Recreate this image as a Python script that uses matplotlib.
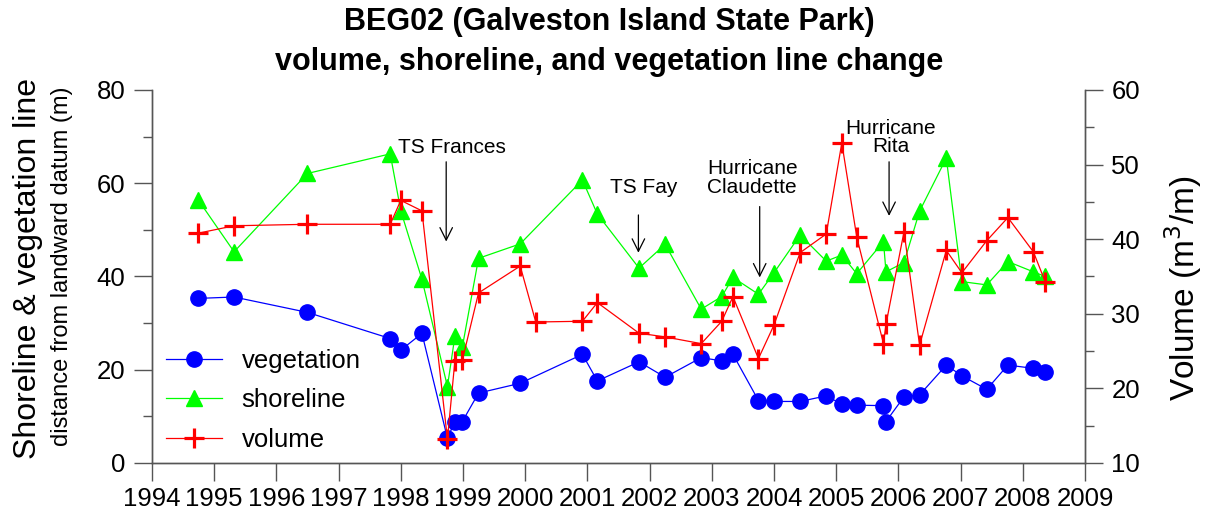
import matplotlib
matplotlib.use("Agg")
import matplotlib.pyplot as plt
from matplotlib.ticker import MultipleLocator

plt.rcParams['font.family'] = ['Liberation Sans', 'DejaVu Sans']

# survey dates (decimal years) for vegetation line and shoreline
survey_dates = [1994.74, 1995.32, 1996.50, 1997.83, 1998.00, 1998.34, 1998.75, 1998.87,
                1998.99, 1999.25, 1999.92, 2000.92, 2001.16, 2001.83, 2002.25, 2002.83,
                2003.16, 2003.34, 2003.75, 2004.00, 2004.42, 2004.84, 2005.09, 2005.33,
                2005.76, 2005.80, 2006.09, 2006.34, 2006.77, 2007.02, 2007.42, 2007.76,
                2008.17, 2008.36]
vegetation = [35.3, 35.6, 32.3, 26.7, 24.2, 27.8, 5.3, 8.9,
              8.9, 15.0, 17.1, 23.3, 17.6, 21.7, 18.4, 22.6,
              21.9, 23.3, 13.4, 13.2, 13.2, 14.4, 12.6, 12.4,
              12.3, 8.9, 14.2, 14.6, 21.0, 18.7, 15.8, 21.0,
              20.3, 19.6]
shoreline = [56.5, 45.3, 62.1, 66.3, 54.1, 39.4, 16.4, 27.2,
             24.9, 43.9, 47.0, 60.7, 53.4, 41.8, 46.9, 33.0,
             35.7, 39.8, 36.2, 40.8, 48.9, 43.3, 44.6, 40.6,
             47.5, 41.0, 43.0, 54.0, 65.4, 38.9, 38.2, 43.2,
             41.0, 40.0]

# volume has one extra survey in early 2000
volume_dates = [1994.74, 1995.32, 1996.50, 1997.83, 1998.00, 1998.34, 1998.75, 1998.87,
                1998.99, 1999.25, 1999.92, 2000.17, 2000.92, 2001.16, 2001.83, 2002.25,
                2002.83, 2003.16, 2003.34, 2003.75, 2004.00, 2004.42, 2004.84, 2005.09,
                2005.33, 2005.76, 2005.80, 2006.09, 2006.34, 2006.77, 2007.02, 2007.42,
                2007.76, 2008.17, 2008.36]
volume = [40.8, 41.8, 42.0, 42.0, 45.2, 43.8, 13.2, 23.7,
          23.8, 32.8, 36.4, 28.9, 29.0, 31.5, 27.4, 26.9,
          26.0, 29.0, 32.3, 24.0, 28.5, 38.2, 40.7, 52.9,
          40.3, 26.0, 28.6, 41.0, 25.8, 38.5, 35.5, 39.8,
          42.9, 38.3, 34.3]

# storm annotations: label, arrow x, arrow tail y, arrow head y, text x, text y (left axis units)
storms = [
    ("TS Frances", 1998.73, 64.6, 47.5, 1998.82, 67.6),
    ("TS Fay", 2001.82, 53.2, 45.1, 2001.91, 59.0),
    ("Hurricane\nClaudette", 2003.77, 55.0, 39.8, 2003.65, 61.1),
    ("Hurricane\nRita", 2005.85, 64.6, 53.0, 2005.88, 69.8),
]

years = list(range(1994, 2010))

fig = plt.figure(figsize=(12.08, 5.19), dpi=100)
ax = fig.add_axes([0.1258, 0.1079, 0.7724, 0.7187])
ax2 = ax.twinx()

l1, = ax.plot(survey_dates, vegetation, '-o', color='#0000ff', lw=0.9, ms=11,
              label='vegetation', clip_on=False)
l2, = ax.plot(survey_dates, shoreline, '-^', color='#00ff00', lw=0.9, ms=11,
              label='shoreline', clip_on=False)
l3, = ax2.plot(volume_dates, volume, '-+', color='#ff0000', lw=0.9, ms=15, mew=2.3,
               label='volume', clip_on=False)

for text, xa, ytail, yhead, xt, yt in storms:
    ax.annotate('', xy=(xa, yhead), xytext=(xa, ytail),
                arrowprops=dict(arrowstyle='->, head_length=0.9, head_width=0.45',
                                color='black', lw=0.9, shrinkA=0, shrinkB=0))
    ax.text(xt, yt, text, ha='center', va='center', fontsize=15, linespacing=0.95)

ax.set_xlim(1994, 2009)
ax.set_ylim(0, 80)
ax2.set_ylim(10, 60)
ax.set_xticks(years)
ax.set_xticklabels([str(y) for y in years])
ax.yaxis.set_major_locator(MultipleLocator(20))
ax.yaxis.set_minor_locator(MultipleLocator(10))
ax2.yaxis.set_major_locator(MultipleLocator(10))
ax2.yaxis.set_minor_locator(MultipleLocator(5))

spine_col = '#555555'
for a in (ax, ax2):
    a.spines['top'].set_visible(False)
    for s in ('left', 'right', 'bottom'):
        a.spines[s].set_color(spine_col)
        a.spines[s].set_linewidth(1.0)
    a.tick_params(which='major', length=13, width=1.0, color=spine_col, labelsize=18.5, pad=6)
    a.tick_params(which='minor', length=6.5, width=1.0, color=spine_col)
ax.tick_params(axis='x', pad=4)

fig.text(0.023, 0.482, 'Shoreline & vegetation line', rotation=90, ha='center', va='center',
         fontsize=23)
fig.text(0.051, 0.487, 'distance from landward datum (m)', rotation=90, ha='center',
         va='center', fontsize=17)
fig.text(0.979, 0.445, 'Volume (m$^3$/m)', rotation=90, ha='center', va='center',
         fontsize=24)

fig.suptitle('BEG02 (Galveston Island State Park)\nvolume, shoreline, and vegetation line change',
             x=0.504, y=0.919, va='center', fontsize=22, fontweight='bold', linespacing=1.45)

ax2.legend([l1, l2, l3], ['vegetation', 'shoreline', 'volume'], loc='lower left',
           bbox_to_anchor=(0.0147, 0.03), frameon=False, fontsize=18.5, borderpad=0,
           borderaxespad=0, handlelength=2.2, handletextpad=0.75, labelspacing=0.6)

fig.savefig('out.png', dpi=100)
